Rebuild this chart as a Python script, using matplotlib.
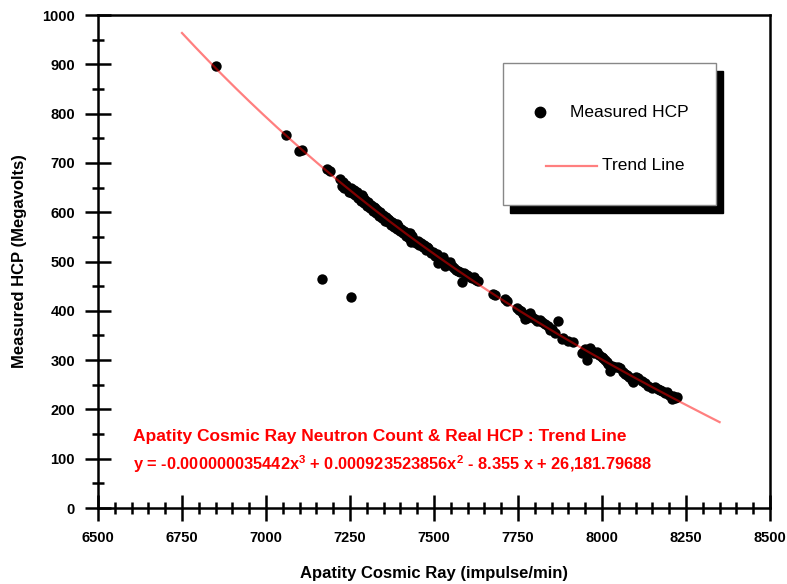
import numpy as np
import matplotlib
matplotlib.use("Agg")
import matplotlib.pyplot as plt
from matplotlib.patches import Rectangle
from matplotlib.lines import Line2D
from matplotlib.ticker import MultipleLocator

plt.rcParams["font.family"] = ["Liberation Sans", "DejaVu Sans"]
plt.rcParams["mathtext.fontset"] = "custom"
plt.rcParams["mathtext.rm"] = "Liberation Sans:bold"
plt.rcParams["mathtext.default"] = "rm"

# measured points (impulse/min, Megavolts)
cosmic_ray = [
    6851, 7061, 7097, 7106, 7168, 7182, 7190, 7220, 7225, 7253,
    7228, 7232, 7238, 7243, 7247, 7252, 7256, 7261, 7265, 7270,
    7274, 7279, 7283, 7285, 7288, 7292, 7296, 7300, 7305, 7309,
    7313, 7318, 7322, 7324, 7326, 7331, 7334, 7335, 7340, 7344,
    7349, 7353, 7358, 7362, 7364, 7367, 7371, 7376, 7380, 7385,
    7389, 7390, 7394, 7398, 7403, 7408, 7412, 7417, 7422, 7427,
    7428, 7432, 7433, 7436, 7441, 7446, 7451, 7456, 7461, 7466,
    7471, 7476, 7478, 7481,
    7486, 7492, 7498, 7503, 7508, 7513, 7518, 7523, 7528, 7533,
    7538, 7544, 7549, 7555, 7560, 7566, 7572, 7577, 7582, 7590,
    7597, 7606, 7612, 7618, 7624, 7630,
    7676, 7681, 7711, 7716,
    7746, 7752, 7760, 7766, 7771, 7776, 7781, 7786, 7791, 7800,
    7808, 7815, 7822, 7830, 7838, 7845, 7852, 7860, 7870, 7880,
    7885, 7900, 7915,
    7940, 7949, 7954, 7958, 7964, 7969, 7976, 7984, 7992, 7999,
    8004, 8010, 8014, 8019, 8024, 8030, 8040, 8049, 8054, 8062,
    8068, 8073, 8080, 8088, 8093, 8100, 8108, 8118, 8128, 8138,
    8148, 8158, 8167, 8172, 8180, 8187, 8192, 8200, 8207, 8212,
    8217, 8222,
]
measured_hcp = [
    896, 756, 724, 727, 464, 688, 684, 667, 653, 429,
    662, 650, 655, 648, 641, 650, 638, 645, 634, 640,
    628, 634, 622, 635, 630, 619, 625, 613, 620, 608,
    615, 603, 610, 608, 598, 604, 598, 593, 600, 588,
    594, 583, 590, 580, 587, 585, 575, 581, 570, 576,
    577, 566, 572, 561, 566, 557, 562, 552, 557, 548,
    557, 540, 543, 552, 544, 537, 542, 533, 538, 529,
    533, 524, 529, 528,
    524, 518, 520, 512, 516, 496, 507, 502, 510, 491,
    500, 496, 500, 491, 486, 483, 481, 478, 459, 476,
    472, 468, 466, 468, 463, 461,
    435, 432, 423, 420,
    406, 402, 400, 394, 383, 386, 390, 395, 388, 384,
    380, 381, 378, 374, 369, 361, 364, 354, 380, 342,
    345, 338, 337,
    314, 322, 300, 316, 324, 318, 314, 317, 310, 307,
    305, 300, 297, 293, 278, 288, 286, 287, 285, 275,
    272, 270, 266, 260, 256, 266, 264, 258, 253, 248,
    243, 245, 242, 239, 238, 234, 235, 230, 222, 228,
    223, 226,
]

# trend line coefficients as printed on the chart (x^3, x^2, x, 1)
trend_coef = [-0.000000035442, 0.000923523856, -8.355, 26181.79688]
trend_range = [6750, 8350]

fig = plt.figure(figsize=(7.87, 5.84), dpi=100)
ax = fig.add_axes([0.1245, 0.1301, 0.8539, 0.8442])

ax.scatter(cosmic_ray, measured_hcp, s=56, color="black", zorder=3, linewidths=0)
tx = np.linspace(trend_range[0], trend_range[1], 200)
ax.plot(tx, np.polyval(trend_coef, tx), color="red", alpha=0.5, lw=1.6, zorder=4)

ax.set_xlim(6500, 8500)
ax.set_ylim(0, 1000)
ax.xaxis.set_major_locator(MultipleLocator(250))
ax.xaxis.set_minor_locator(MultipleLocator(50))
ax.yaxis.set_major_locator(MultipleLocator(100))
ax.yaxis.set_minor_locator(MultipleLocator(50))
ax.tick_params(which="major", direction="inout", length=19, width=1.8)
ax.tick_params(which="minor", direction="inout", length=9, width=1.8)
ax.tick_params(axis="x", which="major", pad=7)
ax.tick_params(axis="y", which="major", pad=7)
for lab in ax.get_xticklabels() + ax.get_yticklabels():
    lab.set_fontweight("bold")
    lab.set_fontsize(10.5)
for sp in ax.spines.values():
    sp.set_linewidth(1.8)

ax.set_xlabel("Apatity Cosmic Ray (impulse/min)", fontsize=12, fontweight="bold")
ax.set_ylabel("Measured HCP (Megavolts)", fontsize=12, fontweight="bold")
ax.xaxis.set_label_coords(0.5, -0.117)
ax.yaxis.set_label_coords(-0.105, 0.5)

fig.text(0.169, 0.2534, "Apatity Cosmic Ray Neutron Count & Real HCP : Trend Line",
         color="red", fontsize=12.5, fontweight="bold", va="center")
fig.text(0.169, 0.2055,
         "y = -0.000000035442x$^{3}$ + 0.000923523856x$^{2}$ - 8.355 x + 26,181.79688",
         color="red", fontsize=11.8, fontweight="bold", va="center")

# legend box with solid shadow
fig.add_artist(Rectangle((0.6480, 0.6353), 0.2706, 0.2432, transform=fig.transFigure,
                         facecolor="black", edgecolor="black", zorder=5))
fig.add_artist(Rectangle((0.6391, 0.6490), 0.2706, 0.2432, transform=fig.transFigure,
                         facecolor="white", edgecolor="#888888", lw=1, zorder=6))
fig.add_artist(Line2D([0.6861], [0.8082], marker="o", ms=7.5, color="black",
                      ls="none", transform=fig.transFigure, zorder=7))
fig.text(0.7243, 0.8082, "Measured HCP", fontsize=12.5, va="center", zorder=7)
fig.add_artist(Line2D([0.6938, 0.7586], [0.7158, 0.7158], color="red", alpha=0.5,
                      lw=1.6, transform=fig.transFigure, zorder=7))
fig.text(0.7649, 0.7158, "Trend Line", fontsize=12.5, va="center", zorder=7)

fig.savefig("out.png", dpi=100)
